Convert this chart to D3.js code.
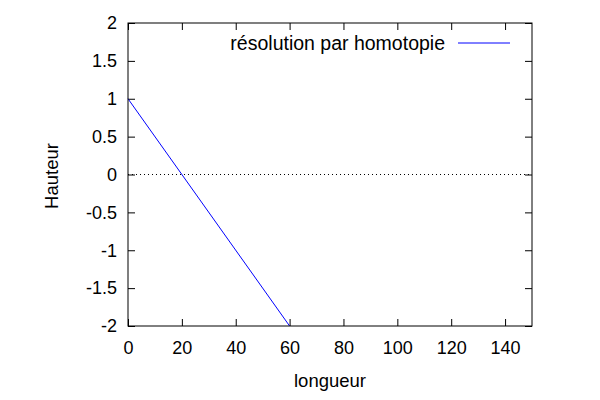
<!DOCTYPE html>
<html>
<head>
<meta charset="utf-8">
<script src="https://cdn.jsdelivr.net/npm/d3@7"></script>
<style>
  body { margin: 0; background: #fff; }
  text { font-family: "Liberation Sans", Arial, sans-serif; font-size: 18px; fill: #000; }
</style>
</head>
<body>
<div id="chart"></div>
<script>
var fullWidth = 600;
var fullHeight = 400;
var margin = {top: 23, right: 68, bottom: 74, left: 128};
var width = fullWidth - margin.left - margin.right;
var height = fullHeight - margin.top - margin.bottom;

// data
var longueur = [0, 60];
var hauteur = [1, -2];
var xTicks = [0, 20, 40, 60, 80, 100, 120, 140, 150];
var yTicks = [-2, -1.5, -1, -0.5, 0, 0.5, 1, 1.5, 2];
var seriesName = "résolution par homotopie";

var svg = d3.select("#chart")
            .append("svg")
            .attr("width", fullWidth)
            .attr("height", fullHeight);
var g = svg.append("g")
           .attr("transform", "translate(" + margin.left + "," + margin.top + ")");

var xScale = d3.scaleLinear().domain([0, 150]).range([0, width]);
var yScale = d3.scaleLinear().domain([-2, 2]).range([height, 0]);

function fmt(d) { return d === 150 ? "" : String(d); }

// axes, ticks inward, mirrored on top/right
var xAxis = d3.axisBottom(xScale).tickValues(xTicks).tickSizeInner(-7).tickSizeOuter(0).tickPadding(15).tickFormat(fmt);
var xTop = d3.axisTop(xScale).tickValues(xTicks).tickSizeInner(-7).tickSizeOuter(0).tickFormat("");
var yAxis = d3.axisLeft(yScale).tickValues(yTicks).tickSizeInner(-7).tickSizeOuter(0).tickPadding(11).tickFormat(function(d){ return String(d); });
var yRight = d3.axisRight(yScale).tickValues(yTicks).tickSizeInner(-7).tickSizeOuter(0).tickFormat("");

function style(sel) {
  sel.select(".domain").remove();
  sel.selectAll("line").attr("stroke", "#000");
  sel.selectAll("text").style("font-size", "18px").attr("fill", "#000");
}
g.append("g").attr("transform", "translate(0," + height + ")").call(xAxis).call(style);
g.append("g").call(xTop).call(style);
g.append("g").call(yAxis).call(style);
g.append("g").attr("transform", "translate(" + width + ",0)").call(yRight).call(style);
g.selectAll(".tick").filter(function(d){ return d === 150; }).remove();

// zero line
g.append("line")
 .attr("x1", 0).attr("x2", width)
 .attr("y1", yScale(0)).attr("y2", yScale(0))
 .attr("stroke", "#000").attr("stroke-width", 1)
 .attr("stroke-dasharray", "1,3");

// series
var pts = longueur.map(function(d, i){ return [d, hauteur[i]]; });
var line = d3.line().x(function(d){ return xScale(d[0]); }).y(function(d){ return yScale(d[1]); });
g.append("path").datum(pts)
 .attr("d", line).attr("fill", "none")
 .attr("stroke", "#0000ff").attr("stroke-width", 1);

// frame
g.append("rect").attr("width", width).attr("height", height)
 .attr("fill", "none").attr("stroke", "#000").attr("stroke-width", 1);

// legend
g.append("text").attr("x", 317).attr("y", 20).attr("dy", "0.35em")
 .style("font-size", "19.5px")
 .attr("text-anchor", "end").text(seriesName);
g.append("line").attr("x1", 330).attr("x2", 382).attr("y1", 20).attr("y2", 20)
 .attr("stroke", "#0000ff").attr("stroke-width", 1);

// axis titles
svg.append("text").attr("x", 330).attr("y", 387).attr("text-anchor", "middle")
   .style("font-size", "18.5px").text("longueur");
svg.append("text").attr("transform", "translate(58,176) rotate(-90)")
   .style("font-size", "18.5px")
   .attr("text-anchor", "middle").text("Hauteur");
</script>
</body>
</html>
